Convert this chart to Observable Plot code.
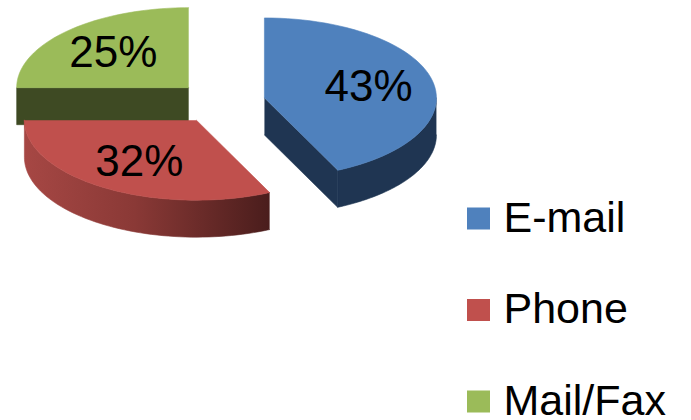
<!DOCTYPE html>
<html>
<head>
<meta charset="utf-8">
<script src="https://cdn.jsdelivr.net/npm/d3@7"></script>
<script src="https://cdn.jsdelivr.net/npm/@observablehq/plot@0.6"></script>
<style>
  html, body { margin: 0; padding: 0; background: #fff; }
  svg { display: block; }
</style>
</head>
<body>
<div id="chart"></div>
<script>
// ---- data ----
const categories = ["E-mail", "Phone", "Mail/Fax"];
const values = [43, 32, 25];
const topColors = ["#4F81BD", "#C0504D", "#9BBB59"];
const sideColors = ["#1F3552", "url(#redSide)", "#3E4A23"];

// ---- layout ----
const W = 691, H = 420;
const cx = 220, cy = 102;      // unexploded pie centre (top face)
const R = 172;                 // horizontal radius
const k = 80 / 172;            // vertical squash
const depth = 37;              // thickness
const explode = 45;
const labelFrac = 0.62;

const total = d3.sum(values);
let acc = 0;
const slices = values.map((v, i) => {
  const a0 = acc / total * 2 * Math.PI;
  acc += v;
  const a1 = acc / total * 2 * Math.PI;
  const mid = (a0 + a1) / 2;
  const ax = cx + explode * Math.sin(mid);
  const ay = cy - explode * Math.cos(mid) * k;
  return {i, name: categories[i], value: v, a0, a1, mid, ax, ay};
});

const pt = (s, a, r = R, dz = 0) => ({x: s.ax + r * Math.sin(a), y: s.ay - r * Math.cos(a) * k + dz});
const arc = (s, from, to, dz = 0) => {
  const n = 60;
  return d3.range(n + 1).map(j => pt(s, from + (to - from) * j / n, R, dz));
};

// polygons (back to front)
const polys = [];
function addSlice(s) {
  const apex = {x: s.ax, y: s.ay};
  // visible outer side: angles between 90deg and 270deg
  const f = Math.max(s.a0, Math.PI / 2), t = Math.min(s.a1, 3 * Math.PI / 2);
  if (t > f) {
    polys.push({pts: [...arc(s, f, t), ...arc(s, t, f, depth)], fill: sideColors[s.i]});
  }
  // radial faces facing the viewer
  for (const a of [s.a0, s.a1]) {
    const isStart = a === s.a0;
    const normal = isStart ? a - Math.PI / 2 : a + Math.PI / 2;
    if (Math.cos(normal) < -1e-6) {
      const p = pt(s, a);
      polys.push({pts: [apex, p, {x: p.x, y: p.y + depth}, {x: apex.x, y: apex.y + depth}], fill: sideColors[s.i]});
    }
  }
  // top face
  polys.push({pts: [apex, ...arc(s, s.a0, s.a1)], fill: topColors[s.i]});
}
// draw order: Mail/Fax (back-left), E-mail, Phone (front)
[2, 0, 1].forEach(i => addSlice(slices[i]));

const labels = slices.map(s => ({
  x: s.ax + labelFrac * R * Math.sin(s.mid),
  y: s.ay - labelFrac * R * Math.cos(s.mid) * k,
  text: Math.round(s.value / total * 100) + "%"
}));

const legend = categories.map((c, i) => ({
  name: c, color: topColors[i],
  y: 218.5 + i * 91.5
}));

const defs = () => {
  const g = d3.create("svg:defs");
  const lg = g.append("linearGradient").attr("id", "redSide")
    .attr("x1", 0).attr("x2", 1).attr("y1", 0).attr("y2", 0);
  lg.append("stop").attr("offset", "0%").attr("stop-color", "#A64744");
  lg.append("stop").attr("offset", "45%").attr("stop-color", "#8A3936");
  lg.append("stop").attr("offset", "100%").attr("stop-color", "#4A1D1C");
  return g.node();
};

const font = "'Liberation Sans', Arial, sans-serif";

const chart = Plot.plot({
  width: W, height: H,
  margin: 0,
  x: {domain: [0, W], range: [0, W], axis: null},
  y: {domain: [0, H], range: [0, H], axis: null},
  style: {background: "#fff"},
  marks: [
    defs,
    ...polys.map(p => Plot.line(p.pts, {x: "x", y: "y", fill: p.fill, stroke: p.fill, strokeWidth: 0.6, curve: "linear"})),
    Plot.text(labels, {x: "x", y: "y", text: "text", fontSize: 44, fontFamily: font, fill: "#000"}),
    Plot.rect(legend, {x1: () => 467, x2: () => 490, y1: d => d.y - 11, y2: d => d.y + 11, fill: "color"}),
    Plot.text(legend, {x: () => 503, y: "y", text: "name", textAnchor: "start", fontSize: 43, fontFamily: font, fill: "#000", dy: -1})
  ]
});
document.getElementById("chart").appendChild(chart);
</script>
</body>
</html>
